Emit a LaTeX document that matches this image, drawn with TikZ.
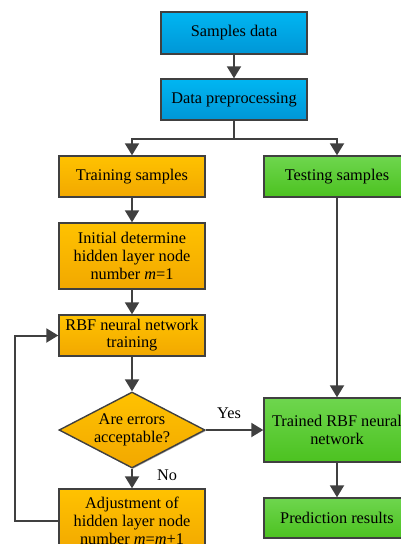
\documentclass[tikz,border=0pt]{standalone}
\usepackage{fontspec}
\setmainfont{Liberation Serif}
\usetikzlibrary{arrows.meta,shapes.geometric,shadows}

\definecolor{linegray}{HTML}{404040}
\definecolor{bluetop}{HTML}{00B6F2}
\definecolor{bluebot}{HTML}{0096D6}
\definecolor{orgtop}{HTML}{FFC200}
\definecolor{orgbot}{HTML}{F2A800}
\definecolor{grntop}{HTML}{6ED64E}
\definecolor{grnbot}{HTML}{4CC220}

\tikzset{
  box/.style={rectangle, draw=linegray, line width=1.4pt,
    minimum width=146pt, inner sep=2pt, align=center,
    font=\fontsize{16.3}{18}\selectfont, text=black,
    drop shadow={shadow xshift=1pt, shadow yshift=-1pt, opacity=0.35, fill=black}},
  bluebox/.style={box, top color=bluetop, bottom color=bluebot},
  orgbox/.style={box, top color=orgtop, bottom color=orgbot},
  grnbox/.style={box, top color=grntop, bottom color=grnbot},
  arr/.style={draw=linegray, line width=2pt,
    -{Triangle[width=14pt,length=12pt]}},
  link/.style={draw=linegray, line width=2pt},
  lbl/.style={font=\fontsize{16.3}{18}\selectfont, text=black, inner sep=0pt}
}

\begin{document}
\begin{tikzpicture}[x=1pt, y=-1pt]
  \useasboundingbox (0,0) rectangle (401,544);

  % main chain
  \node[bluebox, minimum height=42pt] (sd) at (234,33) {Samples data};
  \node[bluebox, minimum height=41pt] (dp) at (234,99.5) {Data preprocessing};
  \node[orgbox, minimum height=41pt] (ts) at (132,176.5) {Training samples};
  \node[grnbox, minimum height=41pt] (te) at (337,176.5) {Testing samples};
  \node[orgbox, minimum height=66pt] (init) at (132,256)
    {Initial determine\\hidden layer node\\number \textit{m}=1};
  \node[orgbox, minimum height=41pt] (rbf) at (132,335.5)
    {RBF neural network\\[-1pt]training};

  % decision
  \node[diamond, draw=linegray, line width=1.4pt, inner sep=0pt,
        minimum width=146pt, minimum height=76pt,
        top color=orgtop, bottom color=orgbot,
        drop shadow={shadow xshift=1pt, shadow yshift=-1pt, opacity=0.35, fill=black}]
        (dia) at (132,430) {};
  \node[lbl, align=center] (diatext) at (dia) {Are errors\\acceptable?};

  \node[orgbox, minimum height=64pt] (adj) at (132,521)
    {Adjustment of\\hidden layer node\\number \textit{m}=\textit{m}+1};

  \node[grnbox, minimum height=64pt] (trn) at (337,430)
    {Trained RBF neural\\network};
  \node[grnbox, minimum height=40pt] (pred) at (337,518) {Prediction results};

  % connectors
  \coordinate (split) at (234,139);
  \coordinate (loopx) at (15,0);
  \draw[arr] (sd) -- (dp);
  \draw[link] (dp.south) -- (split);
  \draw[arr] (split) -| (ts.north);
  \draw[arr] (split) -| (te.north);
  \draw[arr] (ts) -- (init);
  \draw[arr] (init) -- (rbf);
  \draw[arr] (rbf) -- (dia.north);
  \draw[arr] (dia.south) -- (adj.north);
  \draw[arr] (dia.east) -- (trn.west);
  \draw[arr] (te) -- (trn);
  \draw[arr] (trn) -- (pred);
  \draw[arr] (adj.west) -- (adj.west -| loopx) |- (rbf.west);

  % branch labels
  \node[lbl] (yes) at (229,413) {Yes};
  \node[lbl] (no) at (167,475) {No};
\end{tikzpicture}
\end{document}
